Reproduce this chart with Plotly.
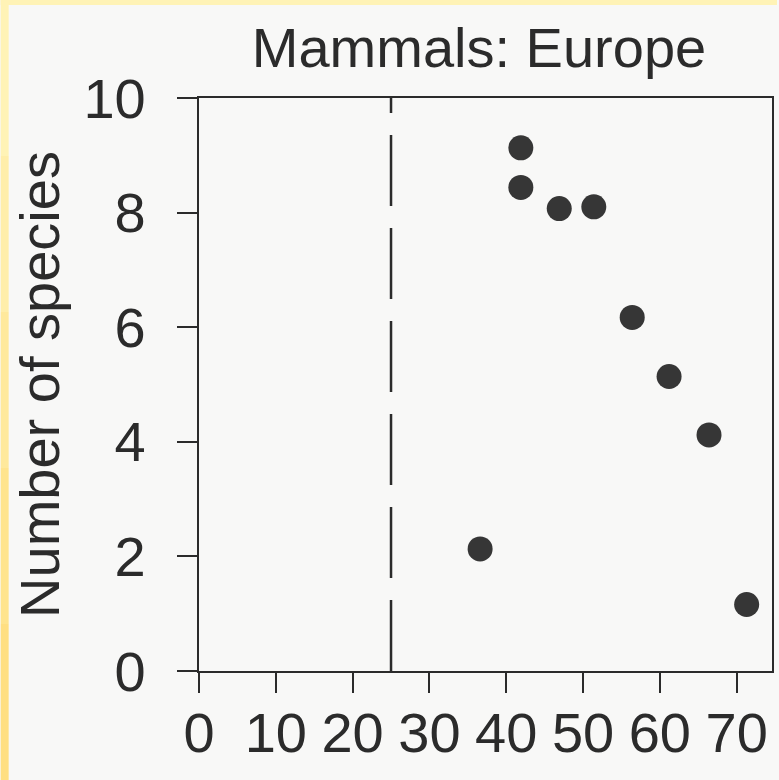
import plotly.graph_objects as go

# Data
latitude = [36.6, 41.9, 41.9, 46.9, 51.4, 56.4, 61.2, 66.4, 71.3]
species = [2.13, 9.13, 8.44, 8.07, 8.10, 6.17, 5.14, 4.12, 1.16]
threshold_x = 25
x_ticks = [0, 10, 20, 30, 40, 50, 60, 70]
y_ticks = [0, 2, 4, 6, 8, 10]
title_text = "Mammals: Europe"
y_title = "Number of species"

W, H = 779, 780
L, R, T, B = 199, 5, 98, 109
pw, ph = W - L - R, H - T - B

ink = "#2b2b2b"
font = dict(family="Liberation Sans, Arial, sans-serif", size=56, color=ink)

fig = go.Figure()
fig.add_trace(go.Scatter(
    x=latitude, y=species, mode="markers",
    marker=dict(size=25, color="#363636", line=dict(width=0)),
    showlegend=False, hoverinfo="skip"))

axis_common = dict(
    showgrid=False, zeroline=False, showline=True, linecolor=ink, linewidth=2.2,
    mirror=True, ticks="outside", ticklen=20, tickwidth=2.2, tickcolor=ink,
    tickfont=font)

fig.update_xaxes(range=[0, 74.6], tickvals=x_ticks,
                 ticktext=[str(v) for v in x_ticks], ticklabelstandoff=-8,
                 **axis_common)
fig.update_yaxes(range=[0, 10], tickvals=y_ticks,
                 ticktext=[str(v) for v in y_ticks], ticklabelstandoff=20,
                 title=dict(text=y_title, font=font, standoff=6),
                 **axis_common)

# dashed reference line
fig.add_shape(type="line", xref="x", yref="y domain", x0=threshold_x, x1=threshold_x,
              y0=0, y1=1, line=dict(color=ink, width=2.5, dash="71px,22px"))

# yellow scan border strips (decoration)
def px_x(p):
    return (p - L) / pw

def px_y(p):
    return (H - B - p) / ph

strip_cols = ["#fff3b6", "#ffeeaa", "#ffe99c", "#ffe48e", "#ffdf82"]
n = len(strip_cols)
for i, c in enumerate(strip_cols):
    fig.add_shape(type="rect", xref="paper", yref="paper", layer="below",
                  x0=px_x(0), x1=px_x(8), y0=px_y(H * (i + 1) / n), y1=px_y(H * i / n),
                  fillcolor=c, line=dict(width=0))
fig.add_shape(type="rect", xref="paper", yref="paper", layer="below",
              x0=px_x(0), x1=px_x(W), y0=px_y(5), y1=px_y(0),
              fillcolor="#fff3b6", line=dict(width=0))

fig.update_layout(
    width=W, height=H,
    margin=dict(l=L, r=R, t=T, b=B),
    paper_bgcolor="#f8f8f7", plot_bgcolor="#f8f8f7",
    font=font,
    title=dict(text=title_text, font=font, x=479 / W, xanchor="center",
               y=1 - 47 / H, yanchor="middle"),
)

fig.write_html("out.html")
